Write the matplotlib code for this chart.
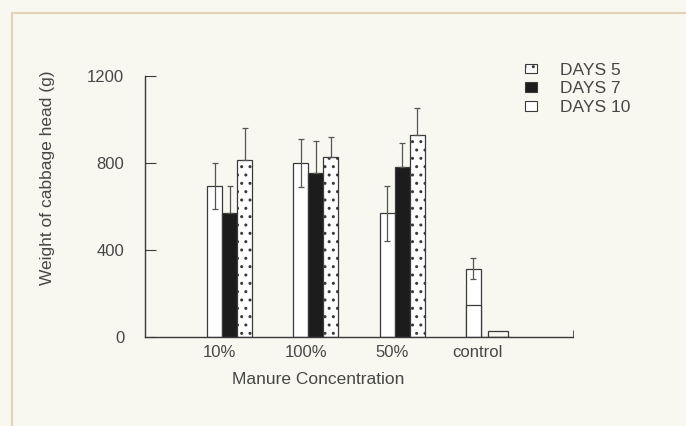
import matplotlib
matplotlib.use('Agg')
import matplotlib.pyplot as plt
from matplotlib.lines import Line2D
from matplotlib.patches import Patch
import numpy as np

plt.rcParams['font.family'] = ['Liberation Sans', 'DejaVu Sans']
plt.rcParams['hatch.linewidth'] = 1.0

# data
groups = ['10%', '100%', '50%', 'control']
days10 = [694, 801, 568, 313]
days10_err = [107, 111, 125, 48]
days7 = [571, 752, 783, 0]
days7_err = [123, 149, 107, 0]
days5 = [814, 829, 929, 0]
days5_err = [146, 92, 122, 0]
control_split = 147   # inner line in the control bar
control_small = 28    # small open mark next to control bar

ink = '#3a3a3a'
txt = '#474747'

fig = plt.figure(figsize=(6.86, 4.26), dpi=100)
fig.patch.set_facecolor('#f8f8f1')
# scanned page edge
fig.add_artist(Line2D([12/686, 1], [1-13/426, 1-13/426], color='#e3d3b4', lw=1.5))
fig.add_artist(Line2D([12/686, 12/686], [0, 1-13/426], color='#e3d3b4', lw=1.5))

ax = fig.add_axes([145/686, 1-337/426, (573-145)/686, (337-76)/426])
ax.set_facecolor('none')

idx = np.arange(len(groups))
w = 15/86

ax.bar(idx - w, days10, w, color='white', edgecolor=ink, lw=0.9, zorder=2)
ax.bar(idx, days7, w, color='#1c1c1c', edgecolor=ink, lw=0.9, zorder=2)
ax.bar(idx + w, days5, w, color='white', edgecolor=ink, lw=0.9, hatch='..', zorder=2)
ax.bar(idx[3] - w, control_split, w, color='white', edgecolor=ink, lw=0.9, zorder=2)
ax.bar(idx[3] + 0.116, control_small, 0.23, color='none', edgecolor=ink, lw=0.9, zorder=2)

ekw = dict(fmt='none', ecolor='#555555', elinewidth=0.9, capsize=2, capthick=0.9, zorder=3)
ax.errorbar(idx - w, days10, yerr=days10_err, **ekw)
m = np.array(days7) > 0
ax.errorbar(idx[m], np.array(days7)[m], yerr=[np.zeros(m.sum()), np.array(days7_err)[m]], **ekw)
m = np.array(days5) > 0
ax.errorbar((idx + w)[m], np.array(days5)[m], yerr=[np.zeros(m.sum()), np.array(days5_err)[m]], **ekw)

ax.set_xlim(-0.988, 3.988)
ax.set_ylim(0, 1200)
ax.set_yticks([0, 400, 800, 1200])
ax.set_xticks(idx - 0.12)
ax.set_xticklabels(groups)
ax.set_xticks([3.988], minor=True)
ax.tick_params(axis='x', which='major', length=0, pad=6, labelsize=12, labelcolor=txt)
ax.tick_params(axis='x', which='minor', direction='in', length=5, color=ink)
ax.tick_params(axis='y', direction='in', length=8, pad=15, labelsize=12, labelcolor=txt, color=ink)
for s in ['top', 'right']:
    ax.spines[s].set_visible(False)
for s in ['left', 'bottom']:
    ax.spines[s].set_color(ink)
    ax.spines[s].set_linewidth(1.0)

fig.text(48/686, 1-178/426, 'Weight of cabbage head (g)', rotation=90,
         ha='center', va='center', fontsize=12.5, color=txt)
fig.text(318/686, 1-380/426, 'Manure Concentration', ha='center', va='center',
         fontsize=12.5, color=txt)

handles = [Patch(facecolor='white', edgecolor=ink, hatch='..', lw=0.8),
           Patch(facecolor='#1c1c1c', edgecolor=ink, lw=0.8),
           Patch(facecolor='white', edgecolor=ink, lw=0.8)]
fig.legend(handles, ['DAYS 5', 'DAYS 7', 'DAYS 10'], loc='upper left',
           bbox_to_anchor=(509/686, 1-47/426), frameon=False, fontsize=12.5,
           handlelength=0.7, handleheight=0.5, handletextpad=1.35, labelspacing=0.22,
           labelcolor=txt)

fig.savefig('out.png', dpi=100, facecolor=fig.get_facecolor())
